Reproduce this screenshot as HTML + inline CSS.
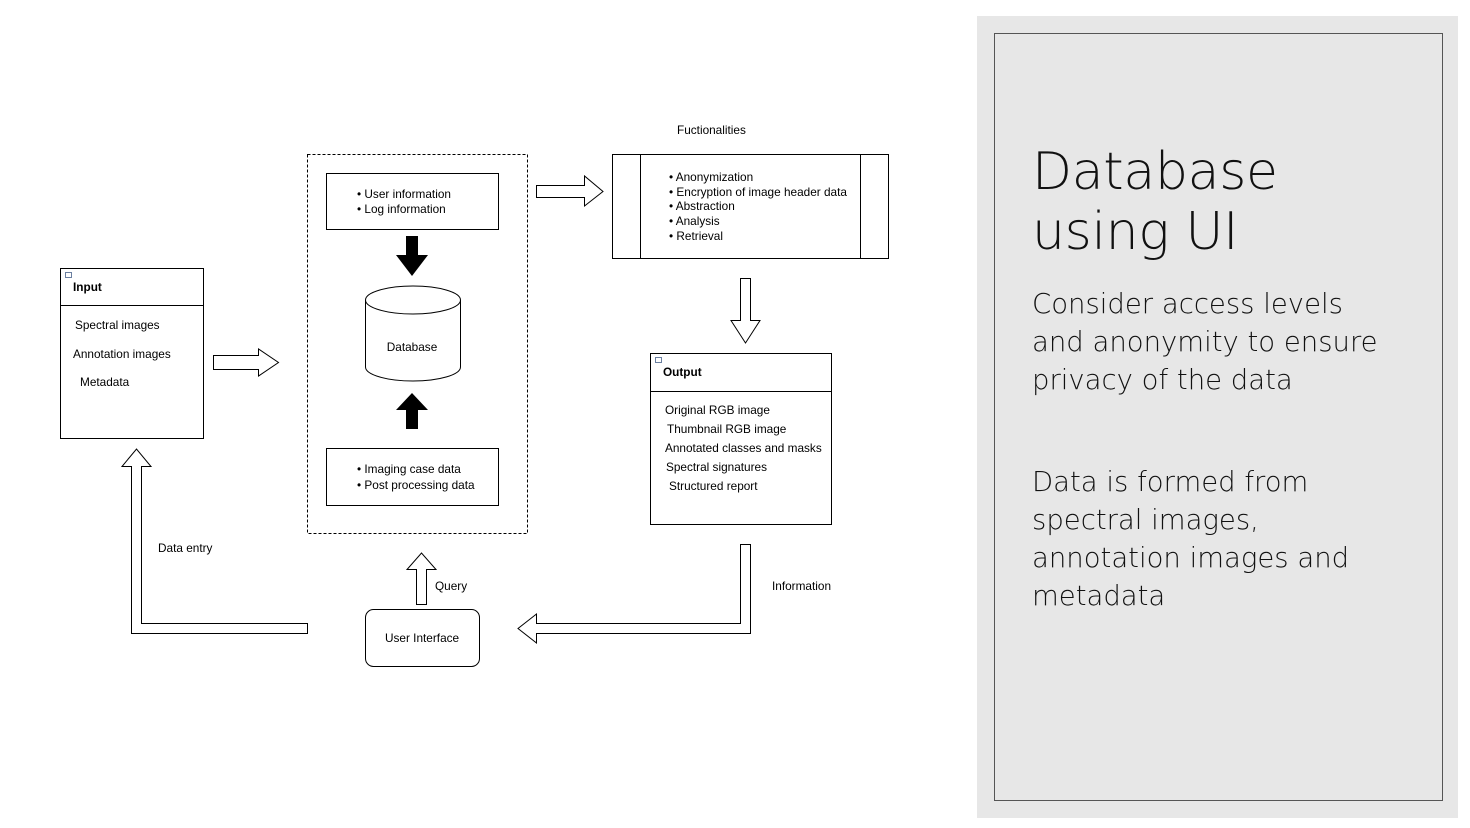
<!DOCTYPE html>
<html><head><meta charset="utf-8"><style>
html,body{margin:0;padding:0;background:#fff;}
body{width:1470px;height:828px;position:relative;overflow:hidden;font-family:"Liberation Sans",Arial,sans-serif;}
svg{position:absolute;left:0;top:0;}
.t{font-family:"Liberation Sans",Arial,sans-serif;font-size:11.8px;fill:#000;}
.b{font-weight:bold;}
.side{position:absolute;left:977px;top:16px;width:481px;height:802px;background:#e7e7e7;}
.inner{position:absolute;left:994px;top:33px;width:447px;height:766px;border:1px solid #555;}
.h{position:absolute;left:1032px;top:142px;font-size:52px;line-height:60px;color:#111;font-family:"DejaVu Sans","Liberation Sans",sans-serif;font-weight:300;letter-spacing:-0.3px;}
.p{position:absolute;left:1032px;font-size:27.5px;line-height:38px;color:#111;font-family:"DejaVu Sans","Liberation Sans",sans-serif;font-weight:300;letter-spacing:0px;}
</style></head><body>
<div class="side"></div><div class="inner"></div>
<div class="h">Database<br>using UI</div>
<div class="p" style="top:285px">Consider access levels<br>and anonymity to ensure<br>privacy of the data</div>
<div class="p" style="top:463px">Data is formed from<br>spectral images,<br>annotation images and<br>metadata</div>
<svg width="970" height="828" viewBox="0 0 970 828">
<g fill="#fff" stroke="#000" stroke-width="1">
<rect x="60.5" y="268.5" width="143" height="170"/>
<line x1="60" y1="305.5" x2="203" y2="305.5"/>
<rect x="65.5" y="272.5" width="6" height="5" stroke="#6a7fa0"/>
<path d="M213.5 355.5 H258.5 V349 L278.5 362.5 L258.5 376 V369.5 H213.5 Z"/>
<rect x="307.5" y="154.5" width="220" height="379" stroke-dasharray="3,2"/>
<rect x="326.5" y="173.5" width="172" height="56"/>
<rect x="326.5" y="448.5" width="172" height="57"/>
<path d="M365.5 300 V367 A47.5 14 0 0 0 460.5 367 V300"/>
<ellipse cx="413" cy="300" rx="47.5" ry="14"/>
<rect x="612.5" y="154.5" width="276" height="104"/>
<line x1="640.5" y1="154" x2="640.5" y2="258"/>
<line x1="860.5" y1="154" x2="860.5" y2="258"/>
<path d="M536.5 185.5 H584.5 V176 L603 191.5 L584.5 206 V197.5 H536.5 Z"/>
<path d="M740.5 278.5 H750.5 V320.5 H760 L745.5 343 L731 320.5 H740.5 Z"/>
<rect x="650.5" y="353.5" width="181" height="171"/>
<line x1="650" y1="391.5" x2="831" y2="391.5"/>
<rect x="655.5" y="357.5" width="6" height="5" stroke="#6a7fa0"/>
<path d="M740.5 544.5 H750.5 V633.5 H536.5 V643 L518 628.5 L536.5 614 V623.5 H740.5 Z"/>
<rect x="365.5" y="609.5" width="114" height="57" rx="8"/>
<path d="M416.5 604.5 V569.5 H407 L421.5 553 L436 569.5 H426.5 V604.5 Z"/>
<path d="M307.5 623.5 V633.5 H131.5 V466.5 H122 L136.5 449 L151 466.5 H141.5 V623.5 Z"/>
</g>
<g fill="#000">
<path d="M406 236 H418 V255 H428 L412 276 L396 255 H406 Z"/>
<path d="M406 429 H418 V410 H428 L412 393 L396 410 H406 Z"/>
</g>
<g class="t">
<text x="73" y="291" class="t b">Input</text>
<text x="75" y="329">Spectral images</text>
<text x="73" y="358">Annotation images</text>
<text x="80" y="386">Metadata</text>
<text x="357" y="198">• User information</text>
<text x="357" y="213">• Log information</text>
<text x="412" y="351" text-anchor="middle">Database</text>
<text x="357" y="473">• Imaging case data</text>
<text x="357" y="489">• Post processing data</text>
<text x="677" y="134">Fuctionalities</text>
<text x="669" y="181">• Anonymization</text>
<text x="669" y="196">• Encryption of image header data</text>
<text x="669" y="210">• Abstraction</text>
<text x="669" y="225">• Analysis</text>
<text x="669" y="240">• Retrieval</text>
<text x="663" y="376" class="t b">Output</text>
<text x="665" y="414">Original RGB image</text>
<text x="667" y="433">Thumbnail RGB image</text>
<text x="665" y="452">Annotated classes and masks</text>
<text x="666" y="471">Spectral signatures</text>
<text x="669" y="490">Structured report</text>
<text x="772" y="590">Information</text>
<text x="385" y="642">User Interface</text>
<text x="435" y="590">Query</text>
<text x="158" y="552">Data entry</text>
</g>
</svg>
</body></html>
